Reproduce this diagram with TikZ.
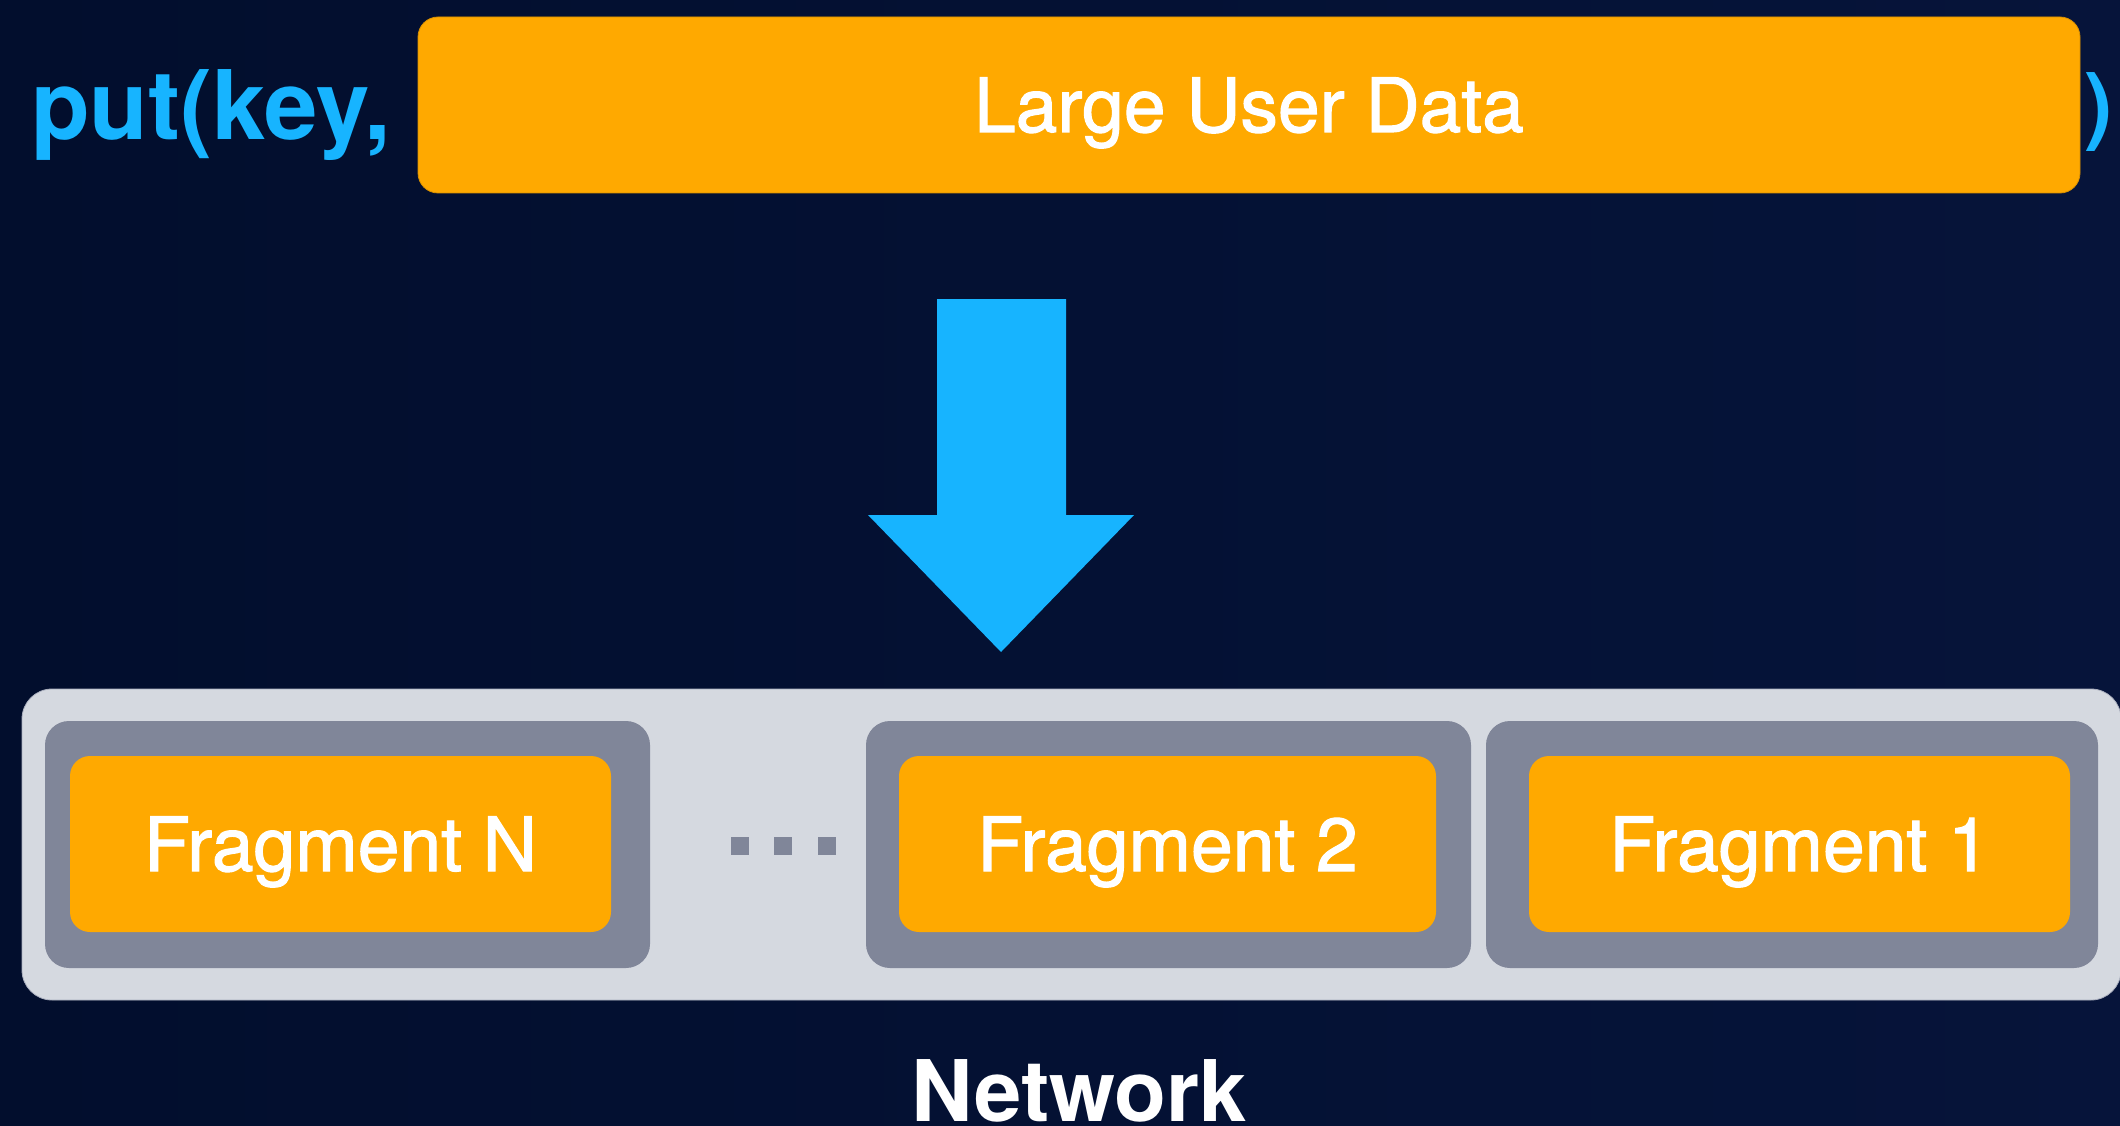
\documentclass[tikz,border=0pt]{standalone}
\usepackage{fontspec}
\setmainfont{TeX Gyre Heros}
\newfontfamily\labelfont[FakeBold=1.5]{TeX Gyre Heros}
\definecolor{bgleft}{RGB}{2,14,45}
\definecolor{bgright}{RGB}{6,20,58}
\definecolor{dataorange}{RGB}{255,169,0}
\definecolor{callblue}{RGB}{23,180,255}
\definecolor{panelgray}{RGB}{213,217,224}
\definecolor{slotgray}{RGB}{128,134,153}
\tikzset{
  databox/.style={fill=dataorange, draw=dataorange!85!black, line width=0.8pt,
    rounded corners=20pt, inner sep=0pt, text=white,
    font=\labelfont\fontsize{75pt}{80pt}\selectfont, text height=54pt, text depth=0pt},
  fragbox/.style={fill=dataorange, rounded corners=20pt, inner sep=0pt,
    minimum height=176pt, text=white,
    font=\labelfont\fontsize{75pt}{80pt}\selectfont, text height=54pt, text depth=0pt},
  slotbox/.style={fill=slotgray, rounded corners=24pt, inner sep=0pt,
    minimum height=247pt},
  panelbox/.style={fill=panelgray, draw={rgb,255:red,170;green,175;blue,190},
    line width=0.8pt, rounded corners=30pt, inner sep=0pt},
  dotbox/.style={fill=slotgray, inner sep=0pt, minimum size=18pt},
  calltext/.style={text=callblue, inner sep=0pt,
    font=\bfseries\fontsize{96pt}{100pt}\selectfont},
}
\begin{document}
\begin{tikzpicture}[x=1pt,y=-1pt]
  % background
  \useasboundingbox (0,0) rectangle (2120,1126);
  \shade[left color=bgleft, right color=bgright] (0,0) rectangle (2120,1126);

  % the put(key, ...) call with the data block as its value
  \node[calltext, anchor=base west] (put) at (31,140) {put(key,};
  \node[databox, minimum width=1662pt, minimum height=176pt] (data) at (1249,105) {Large User Data};
  \node[calltext, anchor=base west, font=\bfseries\fontsize{85pt}{90pt}\selectfont] (close) at (2084,135) {)};

  % big downward arrow
  \fill[callblue] (937,299) -- (1066,299) -- (1066,515) -- (1134,515)
    -- (1001,652) -- (868,515) -- (937,515) -- cycle;

  % network panel with fragment slots
  \node[panelbox, minimum width=2099pt, minimum height=311pt] (net) at (1071.5,844.5) {};

  \node[slotbox, minimum width=605pt] (gN) at (347.5,844.5) {};
  \node[slotbox, minimum width=605pt] (g2) at (1168.5,844.5) {};
  \node[slotbox, minimum width=612pt] (g1) at (1792,844.5) {};

  \node[fragbox, minimum width=541pt] (fN) at (340.5,844) {Fragment N};
  \node[fragbox, minimum width=537pt] (f2) at (1167.5,844) {Fragment 2};
  \node[fragbox, minimum width=541pt] (f1) at (1799.5,844) {Fragment 1};

  % ellipsis between slots
  \node[dotbox] (d1) at (740,846) {};
  \node[dotbox] (d2) at (783,846) {};
  \node[dotbox] (d3) at (827,846) {};

  % caption
  \node[text=white, inner sep=0pt, anchor=base,
    font=\bfseries\fontsize{85pt}{90pt}\selectfont] (netlabel) at (1079,1121) {Network};
\end{tikzpicture}
\end{document}
